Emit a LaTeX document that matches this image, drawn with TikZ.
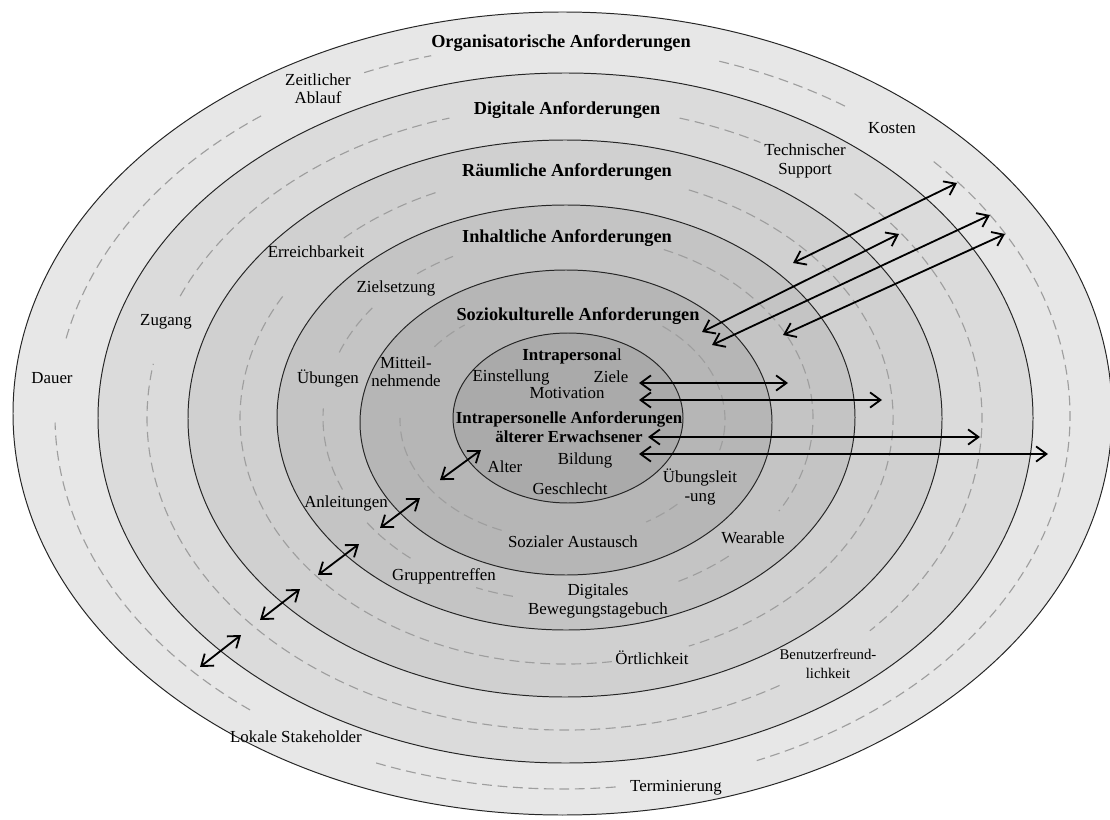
\documentclass[tikz,border=0pt]{standalone}
\usepackage{fontspec}
\setmainfont{Liberation Serif}
\usepackage{xcolor}
\usepackage{tikz}
\usetikzlibrary{arrows.meta}

\definecolor{ringA}{gray}{0.905}
\definecolor{ringB}{gray}{0.86}
\definecolor{ringC}{gray}{0.815}
\definecolor{ringD}{gray}{0.77}
\definecolor{ringE}{gray}{0.715}
\definecolor{ringF}{gray}{0.665}

% dashed piece of a ring: cx, cy, rx, ry, from, to
\newcommand{\dashseg}[6]{%
	\draw[sep] (#1,#2) ++(#5:#3 and #4) arc[start angle=#5,end angle=#6,x radius=#3,y radius=#4];}

\begin{document}
\begin{tikzpicture}[
		x=0.025cm,y=-0.025cm,
		ring/.style={draw=black!85,line width=0.7pt},
		sep/.style={draw=black!38,line width=0.8pt,dash pattern=on 7pt off 4pt},
		lbl/.style={inner sep=0pt,align=center,font=\fontsize{12}{13}\selectfont},
		small/.style={lbl,font=\fontsize{10.5}{13}\selectfont},
		ttl/.style={inner sep=0pt,align=center,font=\fontsize{13}{14}\selectfont\bfseries},
		inner/.style={inner sep=0pt,align=center,font=\fontsize{12}{14}\selectfont\bfseries},
		ar/.style={{Straight Barb[length=2.6mm,width=3.8mm]}-{Straight Barb[length=2.6mm,width=3.8mm]},line width=1.3pt}
		]

		\useasboundingbox[fill=white] (0,0) rectangle (1110,820);

		% rings, outside in
		\draw[ring,fill=ringA] (562.5,413.5) ellipse [x radius=549.5,y radius=401.5];
		\draw[ring,fill=ringB] (565.5,418) ellipse [x radius=467.5,y radius=345];
		\draw[ring,fill=ringC] (565,418.5) ellipse [x radius=377,y radius=278.5];
		\draw[ring,fill=ringD] (566,417.5) ellipse [x radius=289,y radius=212.5];
		\draw[ring,fill=ringE] (566,422.5) ellipse [x radius=206,y radius=152.5];
		\draw[ring,fill=ringF] (568,418) ellipse [x radius=115,y radius=85];

		% dashed middle lines
		\dashseg{562.5}{416}{507.5}{373}{247}{255}
		\dashseg{562.5}{416}{507.5}{373}{288}{304}
		\dashseg{562.5}{416}{507.5}{373}{317}{427.5}
		\dashseg{562.5}{416}{507.5}{373}{84}{112}
		\dashseg{562.5}{416}{507.5}{373}{128}{179}
		\dashseg{562.5}{416}{507.5}{373}{192}{234}

		\dashseg{564.5}{418}{417.5}{312}{203}{254}
		\dashseg{564.5}{418}{417.5}{312}{286}{298}
		\dashseg{564.5}{418}{417.5}{312}{314}{403}
		\dashseg{564.5}{418}{417.5}{312}{59}{190}

		\dashseg{566.5}{418}{326.5}{246}{227}{247}
		\dashseg{566.5}{418}{326.5}{246}{292}{428}
		\dashseg{566.5}{418}{326.5}{246}{82}{210}

		\dashseg{568}{418}{245}{183}{232}{242}
		\dashseg{568}{418}{245}{183}{201}{217}
		\dashseg{568}{418}{245}{183}{157}{183}
		\dashseg{568}{418}{245}{183}{130}{146}
		\dashseg{568}{418}{245}{183}{103}{112}
		\dashseg{568}{418}{245}{183}{49}{64}
		\dashseg{568}{418}{245}{183}{293}{390.6}

		\dashseg{562.5}{420}{162.5}{119}{218}{233}
		\dashseg{562.5}{420}{162.5}{119}{112}{181}
		\dashseg{562.5}{420}{162.5}{119}{308}{376}
		\dashseg{562.5}{420}{162.5}{119}{45}{59}

		% ring titles
		\node[ttl] (orga) at (561,43) {Organisatorische Anforderungen};
		\node[ttl] (digi) at (567,110) {Digitale Anforderungen};
		\node[ttl] (raum) at (567,172) {Räumliche Anforderungen};
		\node[ttl] (inha) at (567,238) {Inhaltliche Anforderungen};
		\node[ttl] (sozi) at (578,316) {Soziokulturelle Anforderungen};

		% core
		\node[inner] (intra) at (572,356) {Intrapersona\textmd{l}};
		\node[lbl] (einst) at (511,377) {Einstellung};
		\node[lbl] (ziele) at (611,377) {Ziele};
		\node[lbl] (motiv) at (567,393) {Motivation};
		\node[inner] (core) at (569,427) {Intrapersonelle Anforderungen\\älterer Erwachsener};
		\node[lbl] (alter) at (505,467) {Alter};
		\node[lbl] (bild) at (585,460) {Bildung};
		\node[lbl] (geschl) at (570,489) {Geschlecht};

		% items
		\node[lbl] (zeit) at (318,89) {Zeitlicher\\Ablauf};
		\node[lbl] (kost) at (892,128) {Kosten};
		\node[lbl] (tech) at (805,161) {Technischer\\Support};
		\node[lbl] (erreich) at (316,252) {Erreichbarkeit};
		\node[lbl] (zug) at (166,322) {Zugang};
		\node[lbl] (dauer) at (52,378) {Dauer};
		\node[lbl] (ziel) at (396,288) {Zielsetzung};
		\node[lbl] (ueb) at (328,378) {Übungen};
		\node[lbl] (mitt) at (406,372) {Mitteil-\\nehmende};
		\node[lbl] (anl) at (346,503) {Anleitungen};
		\node[lbl] (grupp) at (444,576) {Gruppentreffen};
		\node[lbl] (tageb) at (598,601) {Digitales\\Bewegungstagebuch};
		\node[lbl] (wear) at (753,538) {Wearable};
		\node[lbl] (ort) at (652,658) {Örtlichkeit};
		\node[small] (benu) at (828,664) {Benutzerfreund-\\lichkeit};
		\node[lbl] (stake) at (296,737) {Lokale Stakeholder};
		\node[lbl] (term) at (676,788) {Terminierung};
		\node[lbl] (uebl) at (700,487) {Übungsleit\\-ung};
		\node[lbl] (aust) at (573,542) {Sozialer Austausch};

		% arrow ends
		\coordinate (u1a) at (793,263); \coordinate (u1b) at (957,183);
		\coordinate (u2a) at (702,332); \coordinate (u2b) at (899,234);
		\coordinate (u3a) at (712,345); \coordinate (u3b) at (990,215);
		\coordinate (u4a) at (783,335); \coordinate (u4b) at (1005,234);
		\coordinate (h1a) at (639,383); \coordinate (h1b) at (788,383);
		\coordinate (h2a) at (639,400); \coordinate (h2b) at (882,400);
		\coordinate (h3a) at (648,437); \coordinate (h3b) at (980,437);
		\coordinate (h4a) at (639,454); \coordinate (h4b) at (1048,454);
		\coordinate (l1a) at (440,480); \coordinate (l1b) at (481,450);
		\coordinate (l2a) at (380,528); \coordinate (l2b) at (420,498);
		\coordinate (l3a) at (318,575); \coordinate (l3b) at (359,544);
		\coordinate (l4a) at (260,620); \coordinate (l4b) at (300,589);
		\coordinate (l5a) at (200,667); \coordinate (l5b) at (241,635);

		\draw[ar] (u1a)--(u1b);
		\draw[ar] (u2a)--(u2b);
		\draw[ar] (u3a)--(u3b);
		\draw[ar] (u4a)--(u4b);
		\draw[ar] (h1a)--(h1b);
		\draw[ar] (h2a)--(h2b);
		\draw[ar] (h3a)--(h3b);
		\draw[ar] (h4a)--(h4b);
		\draw[ar] (l1a)--(l1b);
		\draw[ar] (l2a)--(l2b);
		\draw[ar] (l3a)--(l3b);
		\draw[ar] (l4a)--(l4b);
		\draw[ar] (l5a)--(l5b);

	\end{tikzpicture}
\end{document}
